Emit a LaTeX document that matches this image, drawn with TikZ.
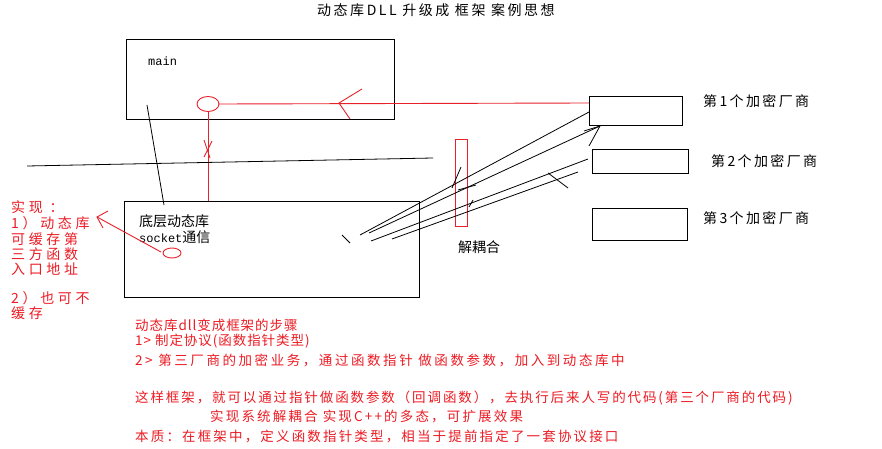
\documentclass[tikz,border=0pt]{standalone}
\usepackage{fontspec}
\usetikzlibrary{shapes.geometric,calc}
\newfontfamily\cjk{Noto Sans CJK SC}
\newfontfamily\cjkT[LetterSpace=18]{Noto Sans CJK SC}
\newfontfamily\cjkL[LetterSpace=26]{Noto Sans CJK SC}
\newfontfamily\cjkV[LetterSpace=17]{Noto Sans CJK SC}
\newfontfamily\cjkB[LetterSpace=16]{Noto Sans CJK SC}
\newfontfamily\cjkBB[LetterSpace=19]{Noto Sans CJK SC}
\newfontfamily\cjkBN[LetterSpace=14]{Noto Sans CJK SC}
\newfontfamily\cjkS[LetterSpace=7]{Noto Sans CJK SC}
\newfontfamily\monofnt{Liberation Mono}
\definecolor{sketchred}{RGB}{232,32,42}
\definecolor{textred}{RGB}{236,28,36}
\begin{document}
\begin{tikzpicture}[x=1pt,y=-1pt,
  box/.style={draw=black,line width=0.9pt,inner sep=0pt,outer sep=0pt,anchor=north west},
  redbox/.style={draw=sketchred,line width=0.9pt,inner sep=0pt,outer sep=0pt,anchor=north west},
  blk/.style={draw=black,line width=0.8pt},
  rd/.style={draw=sketchred,line width=0.9pt},
  lbl/.style={inner sep=0pt,anchor=west},
  rlbl/.style={inner sep=0pt,anchor=west,text=textred}]
\useasboundingbox[fill=white] (0,0) rectangle (882,449);

% title
\node[lbl] (title) at (317,10) {\cjkT\fontsize{14}{16}\selectfont 动态库DLL 升级成 框架 案例思想};

% boxes
\node[box,minimum width=268pt,minimum height=80pt] (main) at (126,39) {};
\node[lbl] (mainlbl) at (148,61) {\monofnt\fontsize{12}{14}\selectfont main};
\node[box,minimum width=295pt,minimum height=96pt] (lib) at (124,201) {};
\node[lbl] (lib1) at (139,221) {\cjk\fontsize{14}{16}\selectfont 底层动态库};
\node[lbl] (lib2) at (139,237) {\fontsize{14}{16}\selectfont{\monofnt\fontsize{12}{14}\selectfont socket}\cjk 通信};

\node[box,minimum width=93pt,minimum height=29pt] (v1) at (589,96) {};
\node[box,minimum width=96pt,minimum height=24pt] (v2) at (592,149) {};
\node[box,minimum width=95pt,minimum height=32pt] (v3) at (592,208) {};
\node[lbl] (v1l) at (703,101) {\cjkV\fontsize{14}{16}\selectfont 第1个加密厂商};
\node[lbl] (v2l) at (711,161) {\cjkV\fontsize{14}{16}\selectfont 第2个加密厂商};
\node[lbl] (v3l) at (703,218) {\cjkV\fontsize{14}{16}\selectfont 第3个加密厂商};

\node[redbox,minimum width=12pt,minimum height=87pt] (dec) at (455,139) {};
\node[lbl] (decl) at (458,247) {\cjk\fontsize{14}{16}\selectfont 解耦合};

% red ellipses and lines
\node[ellipse,draw=sketchred,line width=0.9pt,minimum width=22pt,minimum height=15pt,inner sep=0pt,outer sep=0pt] (e1) at (208,104) {};
\node[ellipse,draw=sketchred,line width=0.9pt,minimum width=18pt,minimum height=10pt,inner sep=0pt,outer sep=0pt] (e2) at (172,253) {};

\coordinate (v1in) at ($(v1.north west)+(0,7)$);
\draw[rd] (e1.east) -- (v1in);
\draw[rd] (362,89) -- (339,103) -- (350,119);
\draw[rd] (e1.south) -- (e1.south |- lib.north);
\draw[rd] (204,140) -- (210,158);
\draw[rd] (212,141) -- (204,157);

\coordinate (ltip) at (97,217);
\draw[rd] (e2.west) ++(-2,-1) -- (ltip);
\draw[rd] (108,211) -- (ltip) -- (103,228);

% black lines
\coordinate (hl1) at (27,166);
\coordinate (hl2) at (433,158);
\draw[blk] (hl1) -- (hl2);
\draw[blk] (147,105) -- (164,205);

\coordinate (aend) at ($(v1.north west)+(0,16)$);
\draw[blk] (360,235) -- (aend);
\coordinate (btip) at (600,126);
\draw[blk] (369,233) -- (btip);
\draw[blk] (584,131) -- (btip) -- (589,146);
\draw[blk] (371,241) -- (588,159);
\draw[blk] (392,239) -- (578,172);
\draw[blk] (342,235) -- (350,243);
\draw[blk] (461,167) -- (452,188);
\draw[blk] (458,190) -- (476,185);
\draw[blk] (469,207) -- (473,200);
\draw[blk] (548,173) -- (568,188);

% left red notes
\node[rlbl] (n1) at (11,207) {\cjkL\fontsize{14}{16}\selectfont 实现 ：};
\node[rlbl] (n2) at (11,223) {\cjkL\fontsize{14}{16}\selectfont 1）动态库};
\node[rlbl] (n3) at (11,239) {\cjkL\fontsize{14}{16}\selectfont 可缓存第};
\node[rlbl] (n4) at (11,254) {\cjkL\fontsize{14}{16}\selectfont 三方函数};
\node[rlbl] (n5) at (11,269) {\cjkL\fontsize{14}{16}\selectfont 入口地址};
\node[rlbl] (n6) at (11,298) {\cjkL\fontsize{14}{16}\selectfont 2）也可不};
\node[rlbl] (n7) at (11,313) {\cjkL\fontsize{14}{16}\selectfont 缓存};

% bottom red notes
\node[rlbl] (b1) at (135,325) {\cjkS\fontsize{13.5}{15}\selectfont 动态库dll变成框架的步骤};
\node[rlbl] (b2) at (135,341) {\cjkS\fontsize{13.5}{15}\selectfont 1> 制定协议(函数指针类型)};
\node[rlbl] (b3) at (135,360) {\cjkBB\fontsize{13.5}{15}\selectfont 2> 第三厂商的加密业务，通过函数指针 做函数参数，加入到动态库中};
\node[rlbl] (b4) at (135,398) {\cjkBN\fontsize{13.5}{15}\selectfont 这样框架，就可以通过指针做函数参数（回调函数），去执行后来人写的代码(第三个厂商的代码)};
\node[rlbl] (b5) at (210,417) {\cjkB\fontsize{13.5}{15}\selectfont 实现系统解耦合 实现C++的多态，可扩展效果};
\node[rlbl] (b6) at (135,437) {\cjkB\fontsize{13.5}{15}\selectfont 本质：在框架中，定义函数指针类型，相当于提前指定了一套协议接口};
\end{tikzpicture}
\end{document}
